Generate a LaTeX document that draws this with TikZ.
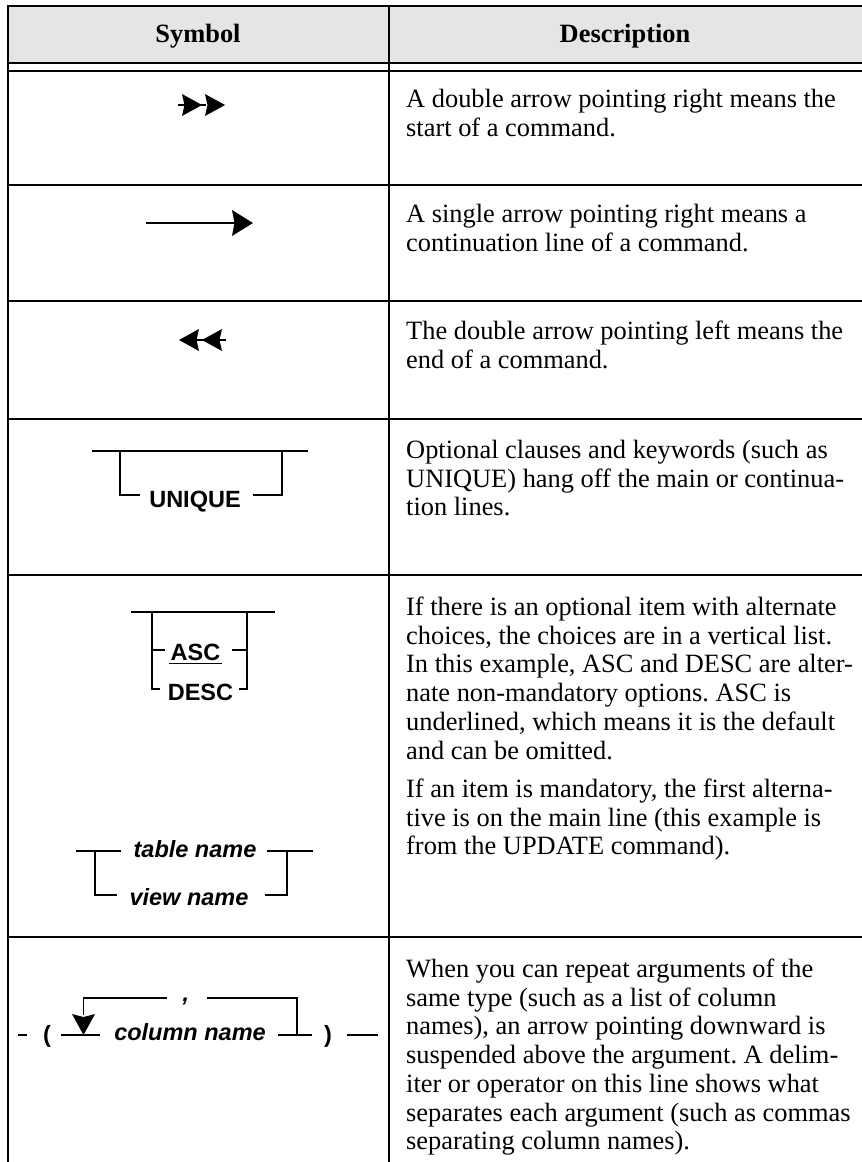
\documentclass[tikz,border=0pt]{standalone}
\usepackage{fontspec}
\setmainfont{Liberation Serif}
\newfontfamily\arialf{Liberation Sans}
\definecolor{hdrgray}{HTML}{E5E5E5}
\frenchspacing
\tikzset{
  tl/.style={line width=1.3pt},
  dl/.style={line width=1.3pt},
  desc/.style={font=\fontsize{26.4}{28.8}\selectfont, inner sep=0pt, anchor=base west},
  hd/.style={font=\bfseries\fontsize{26.4}{28.8}\selectfont, inner sep=0pt, anchor=base},
  syn/.style={font=\arialf\bfseries\fontsize{23.5}{28}\selectfont, inner sep=0pt, anchor=base},
  syni/.style={font=\arialf\bfseries\itshape\fontsize{23.5}{28}\selectfont, inner sep=0pt, anchor=base},
}
\newcommand{\desclines}[4]{% name, x, first baseline, lines
  \foreach \t [count=\i from 0] in {#4}{
    \node[desc] (#1\i) at (#2, #3 + 28.7*\i) {\t};
  }
}
\begin{document}
\begin{tikzpicture}[x=1pt,y=-1pt]
\useasboundingbox (0,0) rectangle (862,1162);
% header
\fill[hdrgray] (8,6) rectangle (862,63);
\draw[tl] (8,1162) -- (8,6) -- (862,6);
\draw[tl] (8,63) -- (862,63);
\draw[tl] (8,71) -- (862,71);
\draw[tl] (389,6) -- (389,1162);
\foreach \yy in {185,301,419,575,937} { \draw[tl] (8,\yy) -- (862,\yy); }
\node[hd] (hsym) at (198,42) {Symbol};
\node[hd] (hdesc) at (625,42) {Description};

% row 1: double arrow right
\draw[dl] (178,105) -- (206,105);
\fill (182,94) -- (202,105) -- (182,116) -- (184.5,105) -- cycle;
\fill (205,94) -- (225,105) -- (205,116) -- (207.5,105) -- cycle;
\desclines{ra}{406}{107.5}{{A double arrow pointing right means the},{start of a command.}}

% row 2: single arrow
\draw[dl] (146,223) -- (235,223);
\fill (232,210) -- (253,223) -- (232,236) -- (234.5,223) -- cycle;
\desclines{rb}{406}{222.5}{{A single arrow pointing right means a},{continuation line of a command.}}

% row 3: double arrow left
\draw[dl] (196,340) -- (226,340);
\fill (199,329) -- (179,340) -- (199,351) -- (196.5,340) -- cycle;
\fill (222,329) -- (202,340) -- (222,351) -- (219.5,340) -- cycle;
\desclines{rc}{406}{339.5}{{The double arrow pointing left means the},{end of a command.}}

% row 4: UNIQUE
\node[syn] (uniq) at (195,507) {UNIQUE};
\draw[dl] (92,451) -- (308,451);
\draw[dl] (140,495) -- (120,495) -- (120,451);
\draw[dl] (253,495) -- (282,495) -- (282,451);
\desclines{rd}{406}{458.5}{{Optional clauses and keywords (such as},{UNIQUE) hang off the main or continua-},{tion lines.}}

% row 5: ASC / DESC
\node[syn] (asc) at (195.5,660) {ASC};
\node[syn] (descn) at (200.5,700) {DESC};
\draw[dl] (131,612) -- (275,612);
\draw[dl] (152,612) -- (152,689) -- (160,689);
\draw[dl] (247,612) -- (247,689) -- (239,689);
\draw[dl] (152,650) -- (165,650);
\draw[dl] (232,650) -- (247,650);
\draw[line width=1.6pt] (169,663.5) -- (222,663.5);
% table name / view name
\node[syni] (tname) at (195,857) {table name};
\node[syni] (vname) at (189,905) {view name};
\draw[dl] (76,851) -- (121,851);
\draw[dl] (267,851) -- (313,851);
\draw[dl] (95,851) -- (95,895) -- (117,895);
\draw[dl] (287,851) -- (287,895) -- (265,895);
\desclines{re}{406}{615.5}{{If there is an optional item with alternate},{choices, the choices are in a vertical list.},{In this example, ASC and DESC are alter-},{nate non-mandatory options. ASC is},{underlined, which means it is the default},{and can be omitted.}}
\desclines{rf}{406}{797.5}{{If an item is mandatory, the first alterna-},{tive is on the main line (this example is},{from the UPDATE command).}}

% row 6: column name repetition
\node[syn] (lpar) at (47,1042) {(};
\node[syni] (cname) at (190,1040) {column name};
\node[syni] (comma) at (186,1001) {,};
\node[syn] (rpar) at (328,1042) {)};
\draw[dl] (18,1035) -- (27,1035);
\draw[dl] (61,1035) -- (100,1035);
\draw[dl] (83.5,1015) -- (83.5,998) -- (167,998);
\draw[dl] (207,998) -- (297,998) -- (297,1035);
\draw[dl] (278,1035) -- (312,1035);
\draw[dl] (347,1035) -- (378,1035);
\fill (72,1014) -- (83.5,1035) -- (95,1014) -- (83.5,1017) -- cycle;
\desclines{rg}{406}{977.5}{{When you can repeat arguments of the},{same type (such as a list of column},{names), an arrow pointing downward is},{suspended above the argument. A delim-},{iter or operator on this line shows what},{separates each argument (such as commas},{separating column names).}}
\end{tikzpicture}
\end{document}
